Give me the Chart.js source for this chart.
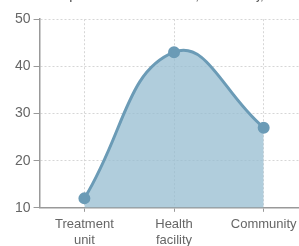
<!DOCTYPE html>
<html>
<head>
<meta charset="utf-8">
<script src="https://cdn.jsdelivr.net/npm/chart.js@4.4.0/dist/chart.umd.min.js"></script>
<style>
  html, body { margin: 0; padding: 0; background: #fff; overflow: hidden; }
  #wrap { position: relative; width: 299px; height: 246px; overflow: hidden; }
  #box { position: absolute; left: 0; top: -12px; width: 316px; height: 265px; }
</style>
</head>
<body>
<div id="wrap">
  <div id="box"><canvas id="deathChart"></canvas></div>
</div>
<script>
const categories = [['Treatment', 'unit'], ['Health', 'facility'], 'Community'];
const deaths = [12, 43, 27];
const yTicks = [10, 20, 30, 40, 50];

const ctx = document.getElementById('deathChart').getContext('2d');
new Chart(ctx, {
    type: 'line',
    data: {
        labels: categories,
        datasets: [{
            label: 'Death cases',
            data: deaths,
            borderColor: '#6b9bb6',
            backgroundColor: 'rgba(150, 188, 208, 0.75)',
            borderWidth: 3,
            fill: 'origin',
            tension: 0.45,
            pointRadius: 4.5,
            pointBackgroundColor: '#6b9bb6',
            pointBorderColor: '#6b9bb6'
        }]
    },
    options: {
        responsive: true,
        maintainAspectRatio: false,
        animation: false,
        layout: { padding: { left: 12, right: 0, top: 0, bottom: 0 } },
        plugins: {
            legend: { display: false },
            tooltip: { enabled: false },
            title: {
                display: true,
                text: 'Death cases per COVID-19 treatment unit, health facility, community',
                align: 'start',
                color: '#555',
                font: { family: 'Liberation Sans, Arial, sans-serif', size: 11, weight: 'bold' },
                padding: { top: 2, bottom: 16 }
            }
        },
        scales: {
            x: {
                offset: true,
                grid: {
                    offset: false,
                    color: '#d6d6d6',
                    tickColor: '#999',
                    tickLength: 4,
                    tickBorderDash: []
                },
                border: { display: true, color: '#999', width: 1.5, dash: [2, 2] },
                ticks: {
                    color: '#666',
                    font: { family: 'Liberation Sans, Arial, sans-serif', size: 13 },
                    maxRotation: 0,
                    padding: 5
                }
            },
            y: {
                min: 10,
                max: 50,
                afterBuildTicks: axis => { axis.ticks = yTicks.map(v => ({ value: v })); },
                grid: {
                    color: '#d6d6d6',
                    tickColor: '#999',
                    tickLength: 6,
                    tickBorderDash: []
                },
                border: { display: true, color: '#999', width: 1.5, dash: [2, 2] },
                ticks: {
                    color: '#666',
                    font: { family: 'Liberation Sans, Arial, sans-serif', size: 14 },
                    padding: 3
                }
            }
        }
    }
});
</script>
</body>
</html>
